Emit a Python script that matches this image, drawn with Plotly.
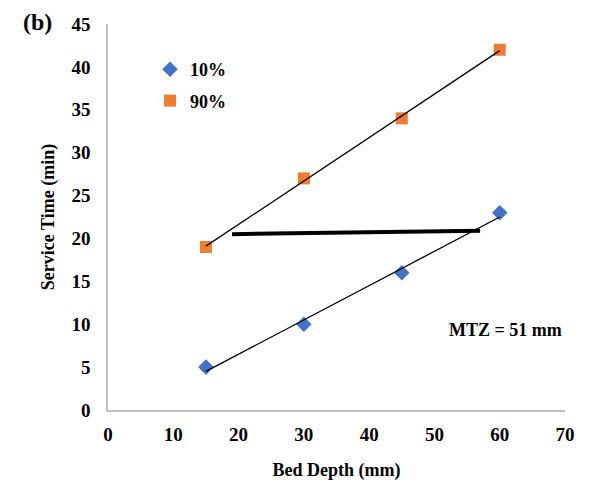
import numpy as np
import plotly.graph_objects as go

bed_depth = [15, 30, 45, 60]
t10 = [5, 10, 16, 23]
t90 = [19, 27, 34, 42]
mtz_x = [19, 57]
mtz_y = [20.5, 20.9]

FONT = "Liberation Serif"

fig = go.Figure()

def trend(xs, ys):
    m, b = np.polyfit(xs, ys, 1)
    xx = np.array([min(xs), max(xs)])
    return xx, m * xx + b

for ys, name, sym, col, grp in [(t10, "10%", "diamond", "#4472C4", "a"),
                                (t90, "90%", "square", "#ED7D31", "b")]:
    fig.add_trace(go.Scatter(x=bed_depth, y=ys, mode="markers", name=name,
                             legendgroup=grp,
                             marker=dict(symbol=sym, size=12, color=col)))
    tx, ty = trend(bed_depth, ys)
    fig.add_trace(go.Scatter(x=tx, y=ty, mode="lines", showlegend=False,
                             line=dict(color="black", width=1.3)))

fig.add_trace(go.Scatter(x=mtz_x, y=mtz_y, mode="lines", showlegend=False,
                         line=dict(color="black", width=4)))

W, H = 597, 482
l, r, t, b = 108, 32, 24, 72
pw, ph = W - l - r, H - t - b

fig.update_layout(
    width=W, height=H,
    margin=dict(l=l, r=r, t=t, b=b),
    paper_bgcolor="white", plot_bgcolor="white",
    font=dict(family=FONT, size=18, color="black"),
    showlegend=True,
    legend=dict(x=0.092, y=0.93, xanchor="left", yanchor="top",
                bgcolor="rgba(0,0,0,0)", itemwidth=30, tracegroupgap=5,
                font=dict(family=FONT, size=18, color="black", weight="bold")),
    xaxis=dict(range=[0, 70], dtick=10, showgrid=False, zeroline=False,
               showline=True, linecolor="#BFBFBF", linewidth=1.5,
               ticks="outside", ticklen=6, tickcolor="white", automargin=False,
               tickfont=dict(family=FONT, size=19, weight="bold"),
               title=dict(text="Bed Depth (mm)", standoff=20,
                          font=dict(family=FONT, size=18, weight="bold"))),
    yaxis=dict(range=[0, 45], dtick=5, showgrid=False, zeroline=False,
               showline=True, linecolor="#BFBFBF", linewidth=1.5,
               ticks="outside", ticklen=12, tickcolor="white", automargin=False,
               tickfont=dict(family=FONT, size=19, weight="bold"),
               title=dict(text="Service Time (min)", standoff=12,
                          font=dict(family=FONT, size=18, weight="bold"))),
)

def pann(text, px, py, size):
    return dict(text=text, showarrow=False, font=dict(family=FONT, size=size, color="black"),
                xref="paper", yref="paper",
                x=(px - l) / pw, y=1 - (py - t) / ph,
                xanchor="center", yanchor="middle")

fig.update_layout(annotations=[
    pann("<b>MTZ = 51 mm</b>", 505, 330, 18),
    pann("<b>(b)</b>", 37, 22, 24),
])

fig.write_html("out.html")
